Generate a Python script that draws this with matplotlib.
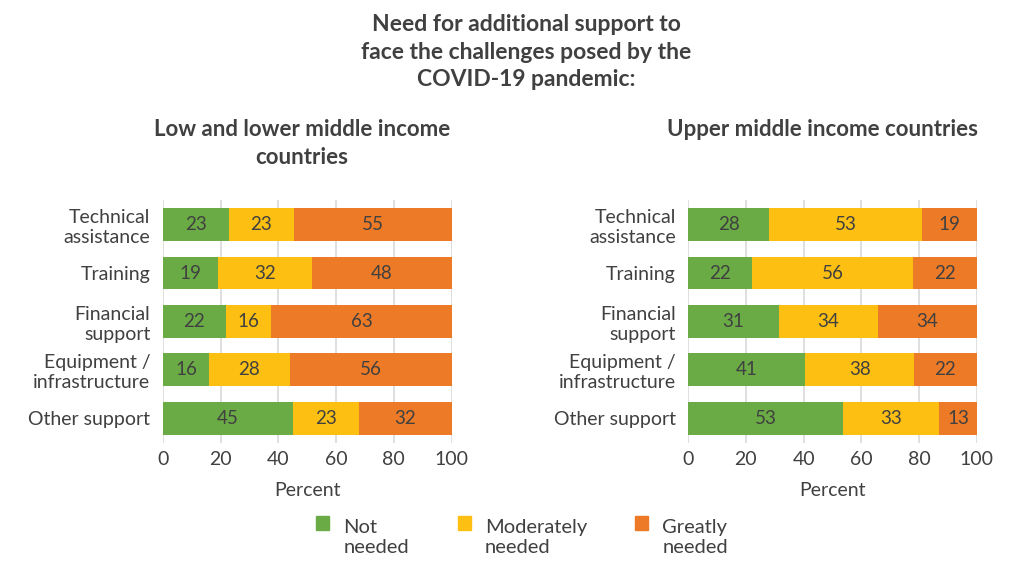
import matplotlib.pyplot as plt
from matplotlib.patches import Patch, Rectangle
from matplotlib.legend_handler import HandlerPatch

plt.rcParams['font.family'] = ['Lato', 'DejaVu Sans']

# Data
categories = ['Technical\nassistance', 'Training', 'Financial\nsupport',
              'Equipment /\ninfrastructure', 'Other support']
series = ['Not\nneeded', 'Moderately\nneeded', 'Greatly\nneeded']

low_not = [23, 19, 22, 16, 45]
low_mod = [23, 32, 16, 28, 23]
low_great = [55, 48, 63, 56, 32]

upper_not = [28, 22, 31, 41, 53]
upper_mod = [53, 56, 34, 38, 33]
upper_great = [19, 22, 34, 22, 13]

colors = ['#6AAB45', '#FDBF12', '#ED7A26']
text_color = '#404040'

fig = plt.figure(figsize=(10.24, 5.69), dpi=100)

fig.text(0.514, 0.975, 'Need for additional support to\nface the challenges posed by the\nCOVID-19 pandemic:',
         ha='center', va='top', fontsize=16.5, fontweight='bold', color=text_color,
         linespacing=1.38)


def draw_panel(ax, vals):
    ypos = list(range(len(categories)))
    # labels are rounded, so each row is scaled to a full 100 % bar
    totals = [sum(col) for col in zip(*vals)]
    left = [0] * len(categories)
    for v, c in zip(vals, colors):
        w = [a / t * 100 for a, t in zip(v, totals)]
        ax.barh(ypos, w, left=left, color=c, height=0.68, zorder=2)
        for y, l, ww, lab in zip(ypos, left, w, v):
            ax.text(l + ww / 2, y, str(lab), ha='center', va='center',
                    fontsize=13.5, color=text_color, zorder=3)
        left = [a + b for a, b in zip(left, w)]
    ax.set_xlim(0, 100)
    ax.set_ylim(len(categories) - 0.5, -0.5)
    ax.set_yticks(ypos)
    ax.set_yticklabels(categories, fontsize=14, color=text_color, linespacing=1.2)
    ax.set_xticks([0, 20, 40, 60, 80, 100])
    ax.tick_params(axis='x', labelsize=14, colors=text_color, length=0, pad=6)
    ax.tick_params(axis='y', length=0, pad=9)
    ax.grid(axis='x', color='#d9d9d9', linewidth=1.2, zorder=0)
    for s in ax.spines.values():
        s.set_visible(False)
    ax.set_xlabel('Percent', fontsize=14, color=text_color, labelpad=10)


ax1 = fig.add_axes([0.159, 0.222, 0.282, 0.426])
draw_panel(ax1, [low_not, low_mod, low_great])
fig.text(0.295, 0.79, 'Low and lower middle income\ncountries', ha='center', va='top',
         fontsize=16, fontweight='bold', color=text_color, linespacing=1.36)

ax2 = fig.add_axes([0.672, 0.222, 0.282, 0.426])
draw_panel(ax2, [upper_not, upper_mod, upper_great])
fig.text(0.803, 0.79, 'Upper middle income countries', ha='center', va='top',
         fontsize=16, fontweight='bold', color=text_color)


def top_square(legend, orig_handle, xdescent, ydescent, width, height, fontsize):
    # square level with the first line of a two-line label
    return Rectangle((-xdescent, -ydescent + fontsize * 0.7), width, height)


handles = [Patch(color=c, label=s) for c, s in zip(colors, series)]
fig.legend(handles=handles, loc='center', bbox_to_anchor=(0.51, 0.056), ncol=3,
           frameon=False, fontsize=14.5, labelcolor=text_color,
           handler_map={Patch: HandlerPatch(patch_func=top_square)},
           handlelength=0.65, handleheight=0.65, handletextpad=0.7,
           columnspacing=2.4)

plt.savefig('out.png', dpi=100)
